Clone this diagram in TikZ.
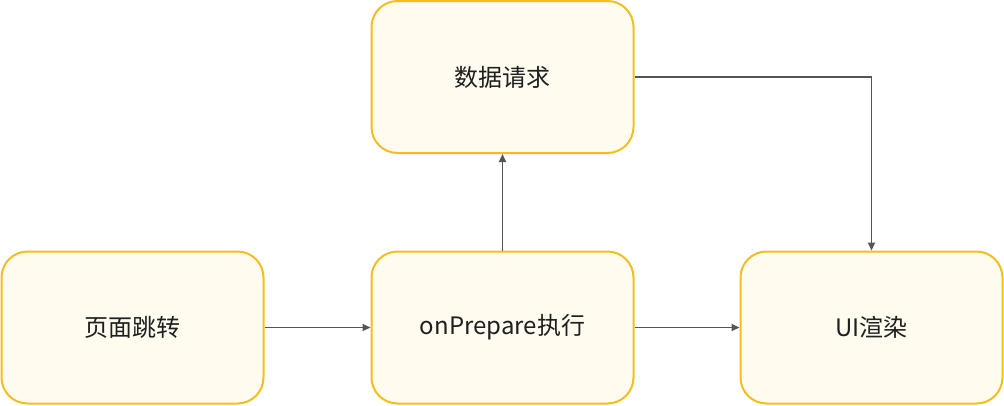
\documentclass[tikz,border=0pt]{standalone}
\usepackage{fontspec}
\setmainfont{Noto Sans CJK SC}
\usetikzlibrary{arrows.meta}
\definecolor{boxfill}{HTML}{FFFBEF}
\definecolor{boxline}{HTML}{F3BE1E}
\definecolor{linkc}{HTML}{555555}
\begin{document}
\begin{tikzpicture}[x=1pt,y=-1pt,
  box/.style={draw=boxline,fill=boxfill,line width=2pt,rounded corners=26pt,
    minimum width=262pt,minimum height=152pt,inner sep=0pt,
    font=\fontsize{24}{28}\selectfont,text=black!88},
  link/.style={draw=linkc,line width=1.8pt,-{Triangle[length=8pt,width=7pt]}}]
\useasboundingbox (0,0) rectangle (1004,405);
\node[box] (jump) at (132.5,327.5) {页面跳转};
\node[box] (prep) at (502.5,327.5) {onPrepare执行};
\node[box] (ui) at (871.5,327.5) {UI渲染};
\node[box] (req) at (502.5,77) {数据请求};
\draw[link] (jump) -- (prep);
\draw[link] (prep) -- (ui);
\draw[link] (prep) -- (req);
\draw[link] (req.east) -| (ui.north);
\end{tikzpicture}
\end{document}
